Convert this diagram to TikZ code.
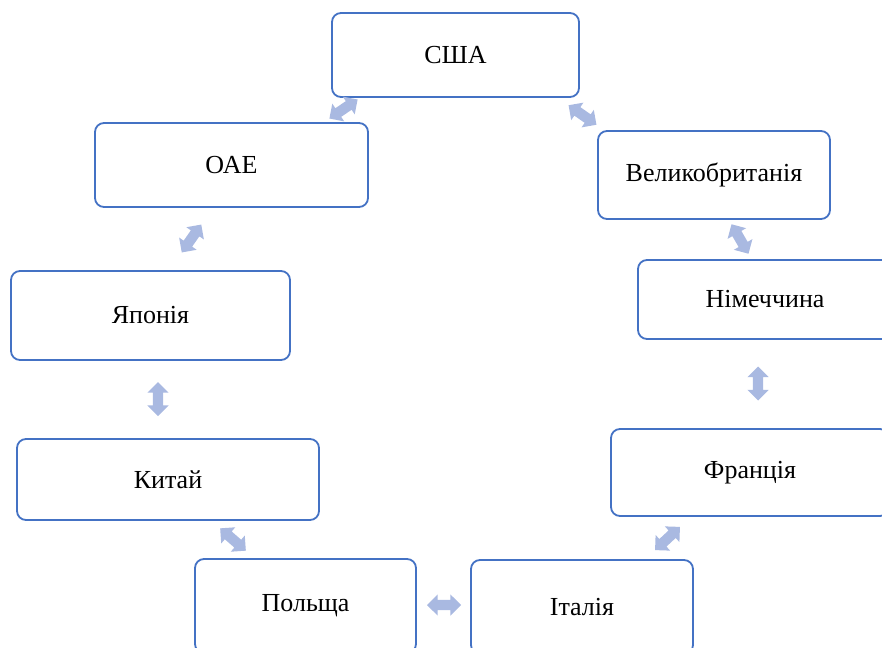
\documentclass[tikz,border=0pt]{standalone}
\usepackage{fontspec}
\setmainfont{Liberation Serif}
\usetikzlibrary{shapes.arrows}
\definecolor{boxblue}{RGB}{68,114,196}
\definecolor{linkblue}{RGB}{169,185,225}
\tikzset{
  country/.style={draw=boxblue, line width=1.8pt, rounded corners=9pt, inner sep=0pt, font=\fontsize{26}{30}\selectfont},
  link/.style={double arrow, fill=linkblue, draw=none, inner xsep=0pt, inner ysep=5pt, minimum height=34pt, double arrow head extend=5.5pt}
}
\begin{document}
\begin{tikzpicture}
\useasboundingbox (0pt, 0pt) rectangle (882pt, -647pt);
\clip (0pt, 0pt) rectangle (882pt, -647pt);
% boxes
\node[country, minimum width=247pt, minimum height=84pt] (usa) at (455.5pt, -55pt) {США};
\node[country, minimum width=273pt, minimum height=84pt] (uae) at (231.5pt, -165pt) {ОАЕ};
\node[country, minimum width=232pt, minimum height=88pt] (uk) at (714pt, -175pt) {Великобританія};
\node[country, minimum width=279pt, minimum height=89pt] (japan) at (150.5pt, -315.5pt) {Японія};
\node[country, minimum width=254pt, minimum height=79pt] (germany) at (765pt, -299.5pt) {Німеччина};
\node[country, minimum width=302pt, minimum height=81pt] (china) at (168pt, -479.5pt) {Китай};
\node[country, minimum width=278pt, minimum height=87pt] (france) at (750pt, -472.5pt) {Франція};
\node[country, minimum width=221pt, minimum height=94pt] (poland) at (305.5pt, -606pt) {Польща};
\node[country, minimum width=222pt, minimum height=94pt] (italy) at (582pt, -607pt) {Італія};
% links
\node[link, rotate=34] (l1) at (343.5pt, -109pt) {};
\node[link, rotate=-35] (l2) at (582.5pt, -115pt) {};
\node[link, rotate=55] (l3) at (191.5pt, -238.5pt) {};
\node[link, rotate=-60] (l4) at (740pt, -239pt) {};
\node[link, rotate=90] (l5) at (158pt, -399pt) {};
\node[link, rotate=90] (l6) at (758pt, -383.5pt) {};
\node[link, rotate=-41] (l7) at (233pt, -539.5pt) {};
\node[link, rotate=43] (l8) at (667.5pt, -538.5pt) {};
\node[link] (l9) at (444pt, -605pt) {};
\end{tikzpicture}
\end{document}
